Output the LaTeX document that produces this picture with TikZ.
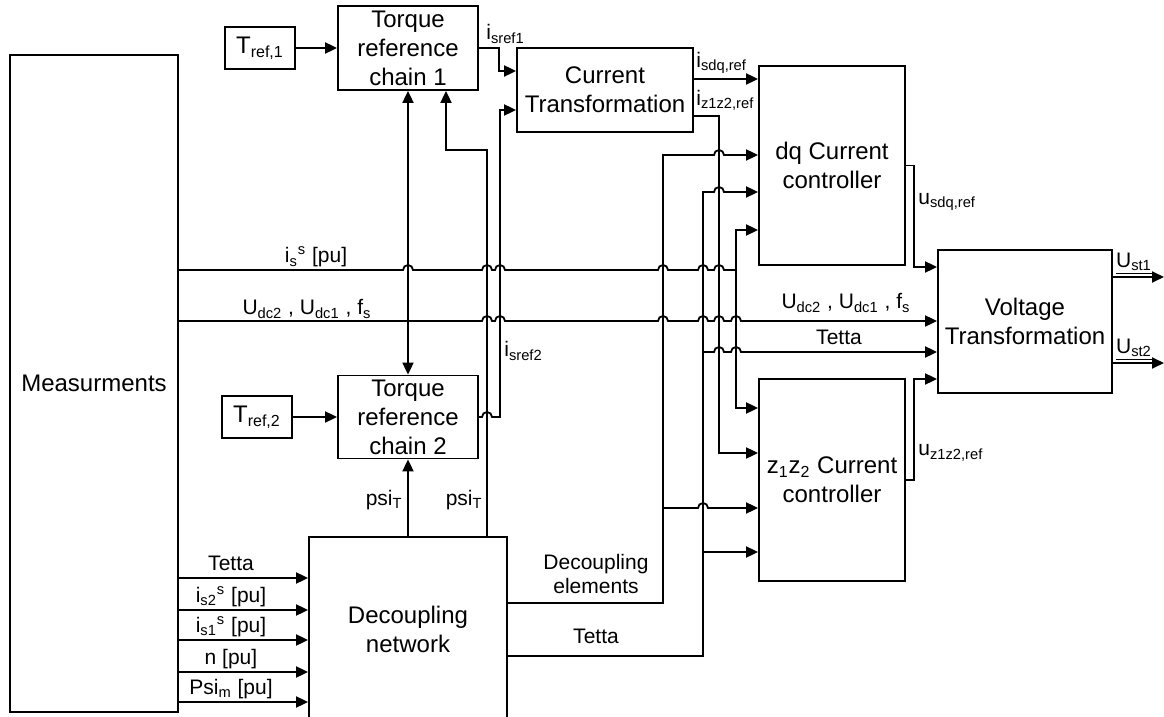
\documentclass[tikz,border=0pt]{standalone}
\usepackage{fontspec}
\setmainfont{Liberation Sans}
\usetikzlibrary{arrows.meta, positioning}

\tikzset{
  blk/.style={draw, line width=0.9pt, align=center, inner sep=0pt, font=\fontsize{12}{14.5}\selectfont},
  lbl/.style={inner sep=0pt, font=\fontsize{10.5}{12.5}\selectfont},
  wire/.style={line width=0.9pt},
}
\newcommand{\hop}{arc[start angle=180, end angle=360, radius=5]}

\begin{document}
\begin{tikzpicture}[x=0.5pt, y=-0.5pt, >={Triangle[length=6pt, width=5.5pt]}]
    \useasboundingbox (0,0) rectangle (1164,717);

    % Blocks
    \node[blk, minimum width=84pt, minimum height=328.5pt] (meas) at (94,383.5) {Measurments};
    \node[blk, minimum width=35pt, minimum height=21pt] (tref1) at (260,48) {T\textsubscript{ref,1}};
    \node[blk, minimum width=70pt, minimum height=42pt] (trc1) at (408,48) {Torque\\reference\\chain 1};
    \node[blk, minimum width=35pt, minimum height=21pt] (tref2) at (257,417) {T\textsubscript{ref,2}};
    \node[blk, minimum width=70pt, minimum height=41.5pt] (trc2) at (408,417) {Torque\\reference\\chain 2};
    \node[blk, minimum width=88pt, minimum height=42pt] (ct) at (605,90) {Current\\Transformation};
    \node[blk, minimum width=73pt, minimum height=99.5pt] (dq) at (832,165.5) {dq Current\\controller};
    \node[blk, minimum width=73pt, minimum height=101pt] (zz) at (832,480) {z\textsubscript{1}z\textsubscript{2} Current\\controller};
    \node[blk, minimum width=87pt, minimum height=71.5pt] (vt) at (1025,321.5) {Voltage\\Transformation};
    \node[blk, minimum width=99pt, minimum height=92.5pt] (dn) at (408,629.5) {Decoupling\\network};

    % Junction points
    \coordinate (fbk) at (487,150);
    \coordinate (fbk2) at (446,150);
    \coordinate (isj) at (736,270);
    \coordinate (dej) at (663,508);
    \coordinate (tej) at (703,352);
    \coordinate (ust1) at (1164,277);
    \coordinate (ust2) at (1164,363);

    % Torque references
    \draw[wire, ->] (tref1) -- (trc1);
    \draw[wire, ->] (tref2) -- (trc2);
    \draw[wire, <->] (trc1.south) -- (trc2.north);
    \draw[wire, ->] (dn.north) -- (trc2.south);
    \draw[wire, ->] (dn.north -| fbk) -- (fbk) -- (fbk2) -- (fbk2 |- trc1.south);
    \node[lbl, anchor=east] (psil) at (403,500) {psi\textsubscript{T}};
    \node[lbl, anchor=east] (psir) at (483,500) {psi\textsubscript{T}};

    % Current references
    \draw[wire, ->] (trc1.east) -- ++(20,0) |- (ct.west |- 0,71);
    \draw[wire, ->] (trc2.east) -- (482,417) \hop -- (500,417) |- (ct.west |- 0,110);
    \node[lbl, anchor=west] (lsref1) at (486,34) {i\textsubscript{sref1}};
    \node[lbl, anchor=west] (lsref2) at (504,351) {i\textsubscript{sref2}};

    \draw[wire, ->] (ct.east |- 0,79) -- (dq.west |- 0,79);
    \draw[wire, ->] (ct.east |- 0,116) -| (719,453) -- (zz.west |- 0,453);
    \node[lbl, anchor=west] (lsdq) at (696,63) {i\textsubscript{sdq,ref}};
    \node[lbl, anchor=west] (lzz) at (696,100) {i\textsubscript{z1z2,ref}};

    % Measurement busses
    \draw[wire] (meas.east |- isj) \foreach \x in {408,487,500,663,703,719} {-- (\x-5,270) \hop} -- (isj);
    \draw[wire, ->] (isj) |- (dq.west |- 0,230);
    \draw[wire, ->] (isj) |- (zz.west |- 0,408);
    \draw[wire, ->] (meas.east |- 0,321) \foreach \x in {487,500,663,703,719,736} {-- (\x-5,321) \hop} -- (vt.west |- 0,321);
    \node[lbl] (lis) at (316,257) {i\textsubscript{s}\textsuperscript{s} [pu]};
    \node[lbl] (ludc) at (307,309) {U\textsubscript{dc2} , U\textsubscript{dc1} , f\textsubscript{s}};
    \node[lbl] (ludc2) at (846,303) {U\textsubscript{dc2} , U\textsubscript{dc1} , f\textsubscript{s}};

    % Decoupling network inputs
    \foreach \y/\t in {578/{Tetta}, 610/{i\textsubscript{s2}\textsuperscript{s} [pu]}, 640/{i\textsubscript{s1}\textsuperscript{s} [pu]}, 672/{n [pu]}, 702/{Psi\textsubscript{m} [pu]}} {
        \draw[wire, ->] (meas.east |- 0,\y) -- (dn.west |- 0,\y);
        \node[lbl, anchor=base] at (231,\y-8) {\t};
    }

    % Decoupling network outputs
    \draw[wire, ->] (dn.east |- 0,603) -| (663,155) -- (714,155) \hop -- (dq.west |- 0,155);
    \draw[wire, ->] (dej) -- (698,508) \hop -- (zz.west |- dej);
    \draw[wire, ->] (dn.east |- 0,656) -| (703,192) -- (714,192) \hop -- (dq.west |- 0,192);
    \draw[wire, ->] (tej) -- (714,352) \hop -- (731,352) \hop -- (vt.west |- tej);
    \draw[wire, ->] (tej |- 0,552) -- (zz.west |- 0,552);
    \node[lbl, align=center, font=\fontsize{10.5}{12}\selectfont] (ldec) at (596,574) {Decoupling\\elements};
    \node[lbl] (ltet) at (596,636) {Tetta};
    \node[lbl] (ltet2) at (839,337) {Tetta};

    % Voltage references
    \draw[wire, ->] (dq.east) -- ++(8,0) |- (vt.west |- 0,267);
    \draw[wire, ->] (zz.east) -- ++(8,0) |- (vt.west |- 0,379);
    \node[lbl, anchor=west] (lusdq) at (918,202) {u\textsubscript{sdq,ref}};
    \node[lbl, anchor=west] (luzz) at (918,453) {u\textsubscript{z1z2,ref}};

    % Outputs
    \draw[wire, ->] (vt.east |- ust1) -- (ust1);
    \draw[wire, ->] (vt.east |- ust2) -- (ust2);
    \node[lbl] (lust1) at (1134,264) {\underline{U\textsubscript{st1}}};
    \node[lbl] (lust2) at (1134,350) {\underline{U\textsubscript{st2}}};
\end{tikzpicture}
\end{document}
